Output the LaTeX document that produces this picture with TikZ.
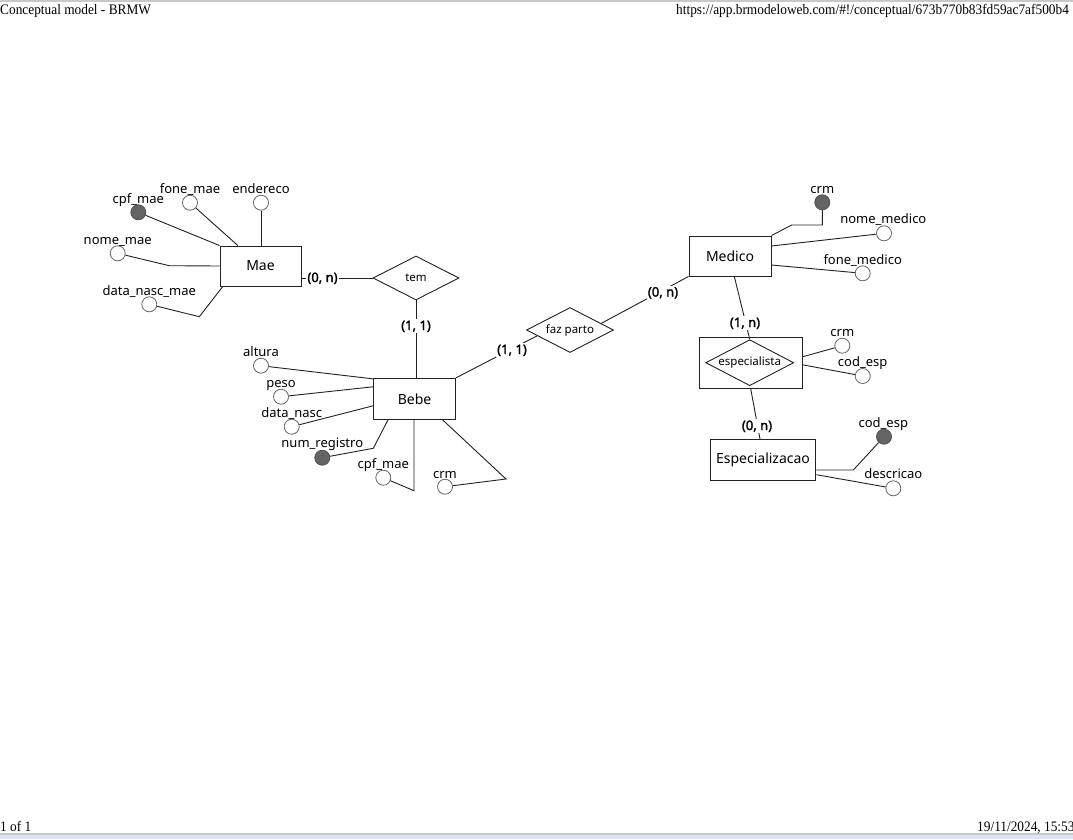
\documentclass[tikz,border=0pt]{standalone}
\usepackage{fontspec}
\setmainfont{Noto Sans}
\newfontfamily\cardfont[FakeBold=2]{Noto Sans}
\newfontfamily\pagefont[FakeStretch=0.92]{Liberation Serif}
\usetikzlibrary{shapes.geometric,calc}

\definecolor{linecol}{HTML}{222222}
\definecolor{ringcol}{HTML}{666666}
\definecolor{keyfill}{HTML}{646464}
\definecolor{barcol}{HTML}{C8C8C8}
\definecolor{bluebar}{HTML}{DDE6F2}

\tikzset{
  entity/.style={rectangle, draw=linecol, line width=0.9pt, fill=white, inner sep=0pt,
    font=\fontsize{14}{16}\selectfont},
  relation/.style={diamond, draw=linecol, line width=0.9pt, fill=white, inner sep=0pt},
  reltext/.style={inner sep=0pt, font=\fontsize{11.5}{14}\selectfont},
  attr/.style={circle, draw=ringcol, line width=0.8pt, fill=white, minimum size=15pt, inner sep=0pt},
  keyattr/.style={attr, draw=keyfill!80!black, fill=keyfill},
  lbl/.style={inner sep=0pt, text height=10pt, text depth=1pt, font=\fontsize{13}{15}\selectfont},
  card/.style={inner sep=1pt, fill=white, text height=10pt, text depth=2pt,
    font=\cardfont\fontsize{13}{15}\selectfont},
  conn/.style={draw=linecol, line width=0.9pt},
  pagetext/.style={inner sep=0pt, anchor=base west, font=\pagefont\fontsize{14.5}{16}\selectfont}
}

\begin{document}
\begin{tikzpicture}[x=1pt,y=-1pt]
\useasboundingbox (0,0) rectangle (1073,839);
\clip (0,0) rectangle (1073,839);
\fill[white] (0,0) rectangle (1073,839);

% page header and footer
\fill[barcol] (0,0) rectangle (1073,2);
\fill[barcol] (0,832.5) rectangle (1073,834.5);
\fill[bluebar] (0,834.5) rectangle (1073,839);
\node[pagetext] (title) at (0,14) {Conceptual model - BRMW};
\node[pagetext] (url) at (676,14) {https://app.brmodeloweb.com/\#!/conceptual/673b770b83fd59ac7af500b4};
\node[pagetext] (pages) at (0,831) {1 of 1};
\node[pagetext] (stamp) at (977,831) {19/11/2024, 15:53};

% entities
\node[entity, minimum width=81pt, minimum height=40pt] (mae) at (260.5,266) {Mae};
\node[entity, minimum width=82pt, minimum height=41pt] (bebe) at (414.5,398.8) {Bebe};
\node[entity, minimum width=82pt, minimum height=40pt] (medico) at (730,256) {Medico};
\node[entity, minimum width=105.7pt, minimum height=40.7pt] (espec) at (763,459.7) {Especializacao};
\node[entity, minimum width=102.7pt, minimum height=51pt] (espbox) at (750.7,362.8) {};

% relationships (text set on top so the outline keeps its given size)
\node[relation, minimum width=86pt, minimum height=44pt,
  label={[reltext]center:tem}] (tem) at (416,278) {};
\node[relation, minimum width=87pt, minimum height=45pt,
  label={[reltext]center:faz parto}] (fazparto) at (570,330) {};
\node[relation, minimum width=88pt, minimum height=46pt,
  label={[reltext]center:especialista}] (espdia) at (749.7,362.7) {};

% relationship connectors
\draw[conn] ($(mae.east)+(0,12)$) -- (tem.west);
\node[card] (c1) at (322.5,278) {(0, n)};
\draw[conn] (tem.south) -- (tem.south |- bebe.north);
\node[card] (c2) at (416,326) {(1, 1)};
\draw[conn] (bebe.north east) -- (fazparto.190);
\node[card] (c3) at (512,350) {(1, 1)};
\draw[conn] (fazparto.12) -- (medico.south west);
\node[card] (c4) at (663,292.5) {(0, n)};
\draw[conn] ($(medico.south)+(4.3,0)$) -- (espdia.north);
\node[card] (c5) at (745,323) {(1, n)};
\draw[conn] (espbox.south) -- ($(espec.north)+(-3,0)$);
\node[card] (c6) at (757,426) {(0, n)};

% attributes of Mae
\node[keyattr] (cpfmae) at (138.3,212.3) {};
\node[lbl] at (138.3,199) {cpf\_mae};
\draw[conn] (cpfmae) -- (mae.north west);
\node[attr] (fonemae) at (190,202.7) {};
\node[lbl] at (190,189) {fone\_mae};
\draw[conn] (fonemae) -- ($(mae.north west)+(18.3,0)$);
\node[attr] (endereco) at (261,202.7) {};
\node[lbl] at (261,189) {endereco};
\draw[conn] (endereco) -- (endereco |- mae.north);
\node[attr] (nomemae) at (117.7,253.3) {};
\node[lbl] at (117.7,240) {nome\_mae};
\draw[conn] (nomemae) -- (169.3,265.7) -- (mae.west);
\node[attr] (dnmae) at (149.3,304.3) {};
\node[lbl] at (149.3,291) {data\_nasc\_mae};
\draw[conn] (dnmae) -- (199.3,316.7) -- ($(mae.south west)+(3.3,0)$);

% attributes of Bebe
\node[attr] (altura) at (261,365.7) {};
\node[lbl] at (261,351.7) {altura};
\draw[conn] (altura) -- ($(bebe.north west)+(0,1)$);
\node[attr] (peso) at (281,396.7) {};
\node[lbl] at (281,383) {peso};
\draw[conn] (peso) -- ($(bebe.west)+(0,-12)$);
\node[attr] (dnasc) at (291.7,426.7) {};
\node[lbl] at (291.7,412.7) {data\_nasc};
\draw[conn] (dnasc) -- ($(bebe.west)+(0,7)$);
\node[keyattr] (numreg) at (322.3,457.7) {};
\node[lbl] at (322.3,443.3) {num\_registro};
\draw[conn] (numreg) -- (373.3,448.3) -- ($(bebe.south west)+(15,0)$);
\node[attr] (cpfbebe) at (383.3,477.7) {};
\node[lbl] at (383.3,464.3) {cpf\_mae};
\draw[conn] (cpfbebe) -- (414,490.7) -- (414,419.3);
\node[attr] (crmbebe) at (445,486.7) {};
\node[lbl] at (445,474) {crm};
\draw[conn] (crmbebe) -- (506,479) -- ($(bebe.south)+(28,0)$);

% attributes of Medico
\node[keyattr] (crmmed) at (822.3,202.3) {};
\node[lbl] at (822.3,188.5) {crm};
\draw[conn] (crmmed) -- (822.3,225) -- (791.7,225) -- (medico.north east);
\node[attr] (nomemed) at (884,233.3) {};
\node[lbl] at (883.3,219.3) {nome\_medico};
\draw[conn] (nomemed) -- ($(medico.east)+(0,-10)$);
\node[attr] (fonemed) at (862.7,273.3) {};
\node[lbl] at (862.7,260) {fone\_medico};
\draw[conn] (fonemed) -- ($(medico.east)+(0,9)$);

% attributes of especialista
\node[attr] (crmesp) at (842.3,345.7) {};
\node[lbl] at (842.3,332) {crm};
\draw[conn] (crmesp) -- ($(espbox.east)+(0,-6)$);
\node[attr] (codesp) at (862.7,376) {};
\node[lbl] at (862.7,362) {cod\_esp};
\draw[conn] (codesp) -- ($(espbox.east)+(0,2)$);

% attributes of Especializacao
\node[keyattr] (codespk) at (884,436.7) {};
\node[lbl] at (883.3,423.3) {cod\_esp};
\draw[conn] (codespk) -- (853.3,470) -- ($(espec.east)+(0,10.3)$);
\node[attr] (descricao) at (893.3,488.3) {};
\node[lbl] at (893.3,474) {descricao};
\draw[conn] (descricao) -- ($(espec.east)+(0,15)$);
\end{tikzpicture}
\end{document}
